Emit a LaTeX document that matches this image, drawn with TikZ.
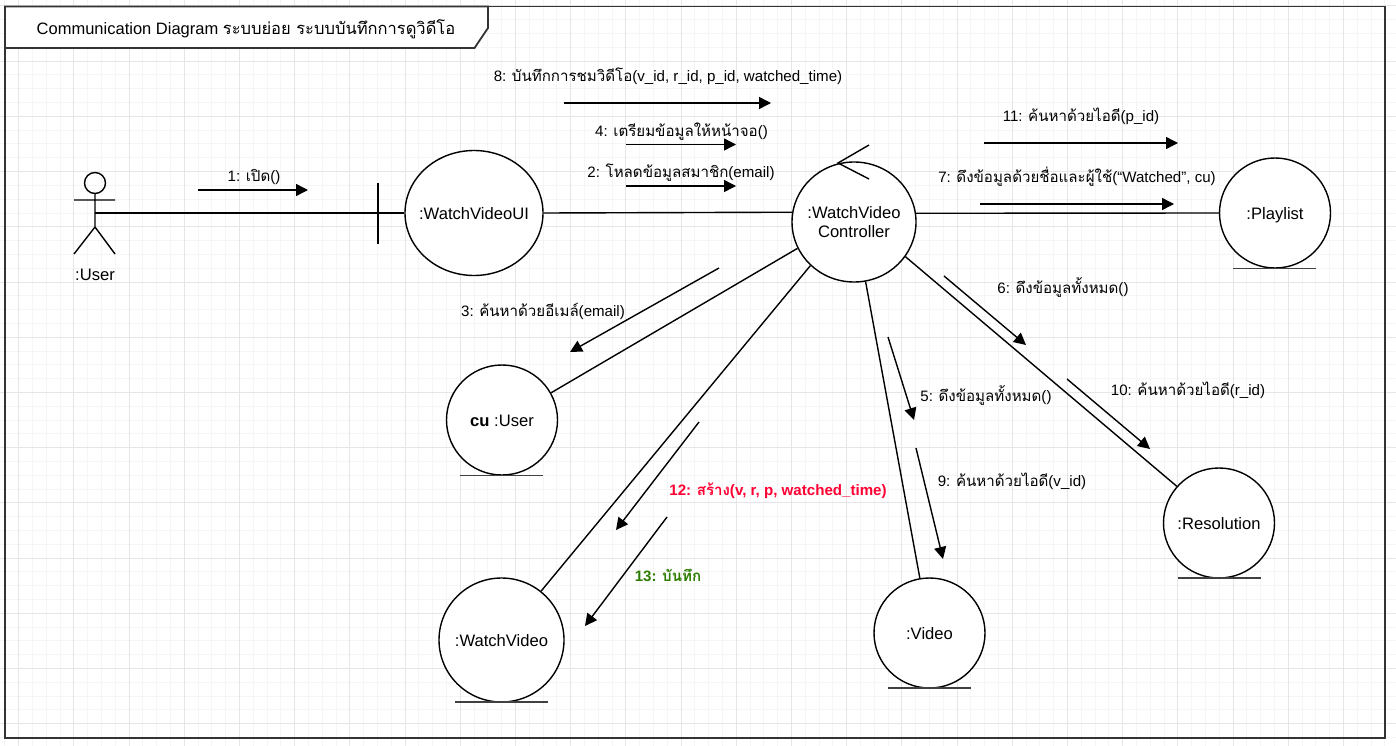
\documentclass[tikz,border=0pt]{standalone}
\usepackage{fontspec}
\usetikzlibrary{arrows.meta,shapes.geometric}
\setmainfont{Liberation Sans}
\newfontfamily\thf[Script=Thai]{Loma}
\newcommand{\tht}[1]{{\thf #1}}
\newcommand{\obt}[1]{\makebox[0pt][c]{#1}}
\definecolor{gridmin}{HTML}{F5F5F5}
\definecolor{gridmaj}{HTML}{E6E6E6}
\definecolor{framecol}{HTML}{333333}
\definecolor{redmsg}{HTML}{FF0033}
\definecolor{greenmsg}{HTML}{2E7D00}
\tikzset{
  obj/.style={ellipse,draw=black,fill=white,line width=1.4pt,inner sep=0pt,align=center,font=\fontsize{16.6}{19}\selectfont},
  one/.style={text height=14pt,text depth=1pt},
  link/.style={draw=black,line width=1.4pt},
  under/.style={draw=black!75,line width=1.6pt},
  msg/.style={draw=black,line width=1.4pt,-{Triangle[length=12pt,width=12pt]}},
  lbl/.style={font=\fontsize{15.1}{18}\selectfont,inner sep=0pt,text=black},
}
\begin{document}
\begin{tikzpicture}[x=1pt,y=-1pt]
\useasboundingbox (0,0) rectangle (1396,746);
\fill[white] (0,0) rectangle (1396,746);
\foreach \i in {0,...,101} \draw[gridmin,line width=1pt] ({4.8+\i*13.8},0) -- ({4.8+\i*13.8},746);
\foreach \i in {0,...,54} \draw[gridmin,line width=1pt] (0,{6+\i*13.8}) -- (1396,{6+\i*13.8});
\foreach \i in {0,...,25} \draw[gridmaj,line width=1pt] ({18.6+\i*55.2},0) -- ({18.6+\i*55.2},746);
\foreach \i in {0,...,13} \draw[gridmaj,line width=1pt] (0,{6+\i*55.2}) -- (1396,{6+\i*55.2});
% frame
\draw[framecol,line width=1.8pt] (5,6.5) rectangle (1385,738);
\draw[framecol,line width=1.8pt,fill=white] (5,6.5) -- (488,6.5) -- (488,28) -- (474.5,48) -- (5,48) -- cycle;
\node[font=\fontsize{16.5}{19}\selectfont,inner sep=0pt] (title) at (246,29) {Communication Diagram \tht{ระบบย่อย ระบบบันทึกการดูวิดีโอ}};
% actor
\coordinate (acthead) at (95,183);
\draw[link] (acthead) circle (10.5);
\coordinate (actneck) at (95,193.5);
\coordinate (acthip) at (95,227);
\coordinate (actmid) at (95,213);
\coordinate (armL) at (74,200);
\coordinate (armR) at (115,200);
\coordinate (legL) at (74,254);
\coordinate (legR) at (115,254);
\draw[link] (actneck) -- (acthip) (armL) -- (armR) (legL) -- (acthip) -- (legR);
\node[lbl,font=\fontsize{16.6}{19}\selectfont] (actlabel) at (95,274.5) {:User};
% objects
\node[obj,one,minimum width=138pt,minimum height=125pt] (ui) at (474,213) {\obt{:WatchVideoUI}};
\node[obj,minimum width=124pt,minimum height=120pt] (ctl) at (854,222) {\obt{\raisebox{-1.5pt}{:WatchVideo}}\\\obt{\raisebox{-1.5pt}{Controller}}};
\node[obj,one,minimum width=111pt,minimum height=110pt] (pl) at (1275,213) {\obt{:Playlist}};
\node[obj,one,minimum width=111pt,minimum height=110pt] (cu) at (502,420) {\obt{\textbf{cu} :User}};
\node[obj,one,minimum width=125pt,minimum height=124pt] (wv) at (501.5,640) {\obt{:WatchVideo}};
\node[obj,one,minimum width=111pt,minimum height=110pt] (vd) at (929.5,633) {\obt{:Video}};
\node[obj,one,minimum width=111pt,minimum height=110pt] (rs) at (1219,523) {\obt{:Resolution}};
% boundary bar
\coordinate (barT) at (378,183);
\coordinate (barB) at (378,244);
\draw[link] (barT) -- (barB);
% links
\draw[link] (actmid) -- (ui.180);
\draw[link] (ui.0) -- (ctl.171.7);
\draw[link] (ctl.8.3) -- (pl.180);
\draw[link] (cu.29.7) -- (ctl.205.3);
\draw[link] (wv.51.1) -- (ctl.225.7);
\draw[link] (vd.100.8) -- (ctl.281.3);
\draw[link] (rs.139.4) -- (ctl.-34.5);
% underlines
\coordinate (u1a) at (1233,268.5); \coordinate (u1b) at (1316,268.5);
\coordinate (u2a) at (460,475.5); \coordinate (u2b) at (543,475.5);
\coordinate (u3a) at (455,702); \coordinate (u3b) at (548,702);
\coordinate (u4a) at (888,688); \coordinate (u4b) at (971,688);
\coordinate (u5a) at (1178,578); \coordinate (u5b) at (1261,578);
\draw[under] (u1a) -- (u1b) (u2a) -- (u2b) (u3a) -- (u3b) (u4a) -- (u4b) (u5a) -- (u5b);
% self chevron
\coordinate (chT) at (838,163);
\coordinate (chA) at (869,145);
\coordinate (chB) at (869,179);
\draw[link,line join=miter] (chA) -- (chT) -- (chB);
% messages
\foreach \n/\ax/\ay/\bx/\by in {
 1/198/190/308/190, 8/563.5/103/771/103, 4/626/144.5/736/144.5, 2/626/186/736/186,
 11/984/143/1178/143, 7/980/204/1174/204, 3/719/268/570/352, 6/944/276/1026/345,
 5/888/337/914/420, 10/1067/379/1150/449, 9/916/448/943/559, 12/699/422/616/530, 13/667/517/585/626}{
  \coordinate (m\n a) at (\ax,\ay);
  \coordinate (m\n b) at (\bx,\by);
  \draw[msg] (m\n a) -- (m\n b);
}
% labels
\node[lbl] (l1) at (254,177) {1: \tht{เปิด}()};
\node[lbl] (l8) at (668,76.5) {8: \tht{บันทึกการชมวิดีโอ}(v\_id, r\_id, p\_id, watched\_time)};
\node[lbl] (l4) at (681.5,132) {4: \tht{เตรียมข้อมูลให้หน้าจอ}()};
\node[lbl] (l2) at (681,173) {2: \tht{โหลดข้อมูลสมาชิก}(email)};
\node[lbl] (l11) at (1081,116) {11: \tht{ค้นหาด้วยไอดี}(p\_id)};
\node[lbl] (l7) at (1077,177) {7: \tht{ดึงข้อมูลด้วยชื่อและผู้ใช้}(“Watched”, cu)};
\node[lbl] (l3) at (543,311) {3: \tht{ค้นหาด้วยอีเมล์}(email)};
\node[lbl] (l6) at (1063,287) {6: \tht{ดึงข้อมูลทั้งหมด}()};
\node[lbl] (l5) at (986,395) {5: \tht{ดึงข้อมูลทั้งหมด}()};
\node[lbl] (l10) at (1188,390) {10: \tht{ค้นหาด้วยไอดี}(r\_id)};
\node[lbl] (l9) at (1012,481) {9: \tht{ค้นหาด้วยไอดี}(v\_id)};
\node[lbl,text=redmsg,font=\fontsize{15.1}{18}\selectfont\bfseries] (l12) at (778,490.5) {12: \tht{สร้าง}(v, r, p, watched\_time)};
\node[lbl,text=greenmsg,font=\fontsize{15.1}{18}\selectfont\bfseries] (l13) at (668,575) {13: \tht{บันทึก}};
\end{tikzpicture}
\end{document}
